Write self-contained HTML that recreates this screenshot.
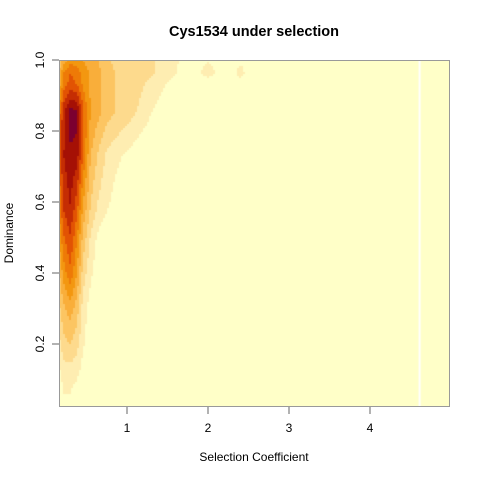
<!DOCTYPE html>
<html><head><meta charset="utf-8"><style>
body{margin:0;background:#fff;font-family:"Liberation Sans",sans-serif;}
svg text{font-family:"Liberation Sans",sans-serif;}
</style></head><body>
<div style="position:relative;width:480px;height:480px">
<canvas id="cv" width="390" height="346" style="position:absolute;left:59px;top:60px"></canvas>
<svg id="sv" width="480" height="480" style="position:absolute;left:0;top:0">
<text x="254" y="36" text-anchor="middle" font-size="14.5" font-weight="bold">Cys1534 under selection</text>
<text x="254" y="461" text-anchor="middle" font-size="12">Selection Coefficient</text>
<text transform="translate(13,233) rotate(-90)" text-anchor="middle" font-size="12">Dominance</text>
<rect x="59.5" y="60.5" width="390" height="346" fill="none" stroke="#999" stroke-width="1"/>
<g id="ax"></g>
</svg>
</div>
<script>
const xGrid=[0.16,0.22,0.3,0.38,0.46,0.55,0.65,0.75,0.85,1.0,1.15,1.3,1.5,1.7,1.85,2.0,2.15,2.3,2.4,2.5,3,5];
const yGrid=[0.02,0.06,0.12,0.21,0.3,0.4,0.49,0.59,0.73,0.85,0.93,0.965,1.0];
const dens=[
[0,0,0,0,0,0,0,0,0,0,0,0,0,0,0,0,0,0,0,0,0,0],
[0.3,1.0,1.0,0.5,0,0,0,0,0,0,0,0,0,0,0,0,0,0,0,0,0,0],
[0.8,1.5,1.5,1.3,0.5,0,0,0,0,0,0,0,0,0,0,0,0,0,0,0,0,0],
[1.8,2.8,3.2,2.5,1.2,0.3,0,0,0,0,0,0,0,0,0,0,0,0,0,0,0,0],
[2.8,3.8,4.5,3.5,1.5,0.5,0,0,0,0,0,0,0,0,0,0,0,0,0,0,0,0],
[3.8,5.5,6.8,5,2.5,1.2,0.3,0,0,0,0,0,0,0,0,0,0,0,0,0,0,0],
[5,6.8,7.8,6,3.5,1.8,0.6,0,0,0,0,0,0,0,0,0,0,0,0,0,0,0],
[6.2,8.2,9.0,7.5,4.8,3,1.8,1.2,0.6,0,0,0,0,0,0,0,0,0,0,0,0,0],
[7.2,9.0,9.8,9.5,6.8,4,2.8,1.8,1.3,0.8,0.3,0,0,0,0,0,0,0,0,0,0,0],
[6.5,8.8,10.6,10.4,7.2,5,4.2,3.4,3.0,2.5,1.8,1.0,0.3,0,0,0,0,0,0,0,0,0],
[4.5,6.5,7.5,7,5.8,4.8,4.2,3.5,3,2.8,2.3,1.6,0.9,0.3,0,0,0,0,0,0,0,0],
[4,6,7,6.5,5.5,4.8,4.2,3.5,3,2.8,2.5,2.2,1.5,0.6,0.4,1.8,0.4,0.3,1.7,0.3,0,0],
[3,4.5,5.5,5.5,5,4.5,4,3.2,2.8,2.5,2.3,2.2,1.5,0.8,0.3,0.9,0,0,0.6,0,0,0]];
const xTicks=[1,2,3,4];
const yTicks=[0.2,0.4,0.6,0.8,1.0];
const cols=["#FFFFC8","#FEEDB1","#FDDA8D","#FCC562","#F9AE3A","#F39710","#EE7A07","#E25303","#C52D03","#A51005","#7B0030"];
const X=v=>46+81*v, Y=v=>415-355*v;
const Xi=p=>(p-46)/81, Yi=p=>(415-p)/355;
function interp(g,v){let i=0;while(i<g.length-2&&v>g[i+1])i++;let t=(v-g[i])/(g[i+1]-g[i]);return [i,Math.max(0,Math.min(1,t))];}
const cv=document.getElementById('cv'),ctx=cv.getContext('2d');
for(let py=0;py<346;py+=2)for(let px=0;px<390;px+=2){
 const xv=Xi(59+px+1),yv=Yi(60+py+1);
 const [i,tx]=interp(xGrid,xv),[j,ty]=interp(yGrid,yv);
 const d=dens[j][i]*(1-tx)*(1-ty)+dens[j][i+1]*tx*(1-ty)+dens[j+1][i]*(1-tx)*ty+dens[j+1][i+1]*tx*ty;
 ctx.fillStyle=cols[Math.max(0,Math.min(10,Math.floor(d)))];ctx.fillRect(px,py,2,2);
}
ctx.fillStyle="#fff";ctx.fillRect(X(4.6)-59,0,2,346);
const ax=document.getElementById('ax'),NS="http://www.w3.org/2000/svg";
function mk(t,a){const e=document.createElementNS(NS,t);for(const k in a)e.setAttribute(k,a[k]);ax.appendChild(e);return e;}
xTicks.forEach(v=>{
 const l=mk('line',{x1:X(v),x2:X(v),y1:407,y2:414,stroke:'#666'});
 
 
 const t=mk('text',{x:X(v),y:432,'text-anchor':'middle','font-size':12});t.textContent=v;
 
 
});
yTicks.forEach(v=>{
 const l=mk('line',{x1:52,x2:59,y1:Y(v),y2:Y(v),stroke:'#666'});
 
 
 const t=mk('text',{transform:`translate(44,${Y(v)}) rotate(-90)`,'text-anchor':'middle','font-size':12});t.textContent=v.toFixed(1);
 
 
});
</script>
</body></html>
